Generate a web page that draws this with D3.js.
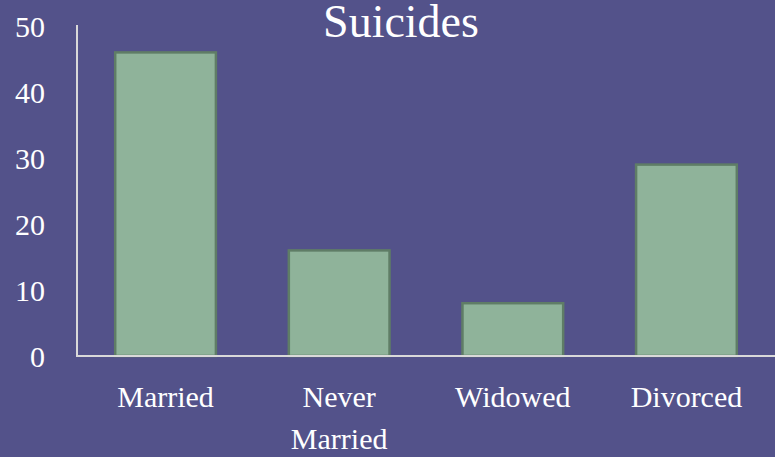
<!DOCTYPE html>
<html>
<head>
<meta charset="utf-8">
<script src="https://cdn.jsdelivr.net/npm/d3@7"></script>
<style>
  body { margin: 0; background: #53528a; }
</style>
</head>
<body>
<svg id="chart" width="775" height="457"></svg>
<script>
// chart data
var categories = ["Married", "Never Married", "Widowed", "Divorced"];
var suicides = [46, 16, 8, 29];
var yTicks = [0, 10, 20, 30, 40, 50];

var serif = "'Liberation Serif', 'Times New Roman', 'DejaVu Serif', serif";

var svg = d3.select("#chart"),
  width = +svg.attr("width"),
  height = +svg.attr("height");

var margin = {top: 26, right: 0, bottom: 101, left: 77};

svg.append("rect")
  .attr("width", width)
  .attr("height", height)
  .attr("fill", "#53528a");

var x = d3.scaleBand()
  .domain(categories)
  .range([margin.left, width - margin.right])
  .paddingInner(0.42)
  .paddingOuter(0.22);

var y = d3.scaleLinear()
  .domain([0, 50])
  .range([height - margin.bottom, margin.top]);

// bars
svg.append("g")
  .selectAll("rect")
  .data(suicides)
  .enter()
  .append("rect")
    .attr("x", function(d, i){ return x(categories[i]) })
    .attr("y", function(d){ return y(d) })
    .attr("width", x.bandwidth())
    .attr("height", function(d){ return y(0) - y(d) })
    .attr("fill", "#8fb39a")
    .attr("stroke", "#5f7d66")
    .attr("stroke-width", 2.5)

// y axis labels
svg.append("g")
  .selectAll("text")
  .data(yTicks)
  .enter()
  .append("text")
    .attr("x", 45)
    .attr("y", function(d){ return y(d) })
    .attr("dy", "0.35em")
    .attr("text-anchor", "end")
    .attr("font-family", serif)
    .attr("fill", "#fff")
    .style("font-size", "30px")
    .text(function(d){ return d })

// axis lines
svg.append("line")
  .attr("x1", margin.left).attr("x2", margin.left)
  .attr("y1", y(50) - 1).attr("y2", y(0))
  .attr("stroke", "#d9d9d9").attr("stroke-width", 2)
svg.append("line")
  .attr("x1", margin.left - 1).attr("x2", width)
  .attr("y1", y(0)).attr("y2", y(0))
  .attr("stroke", "#d9d9d9").attr("stroke-width", 2)

// category labels (wrap two-word names)
var labels = svg.append("g")
  .selectAll("text")
  .data(categories)
  .enter()
  .append("text")
    .attr("x", function(d){ return x(d) + x.bandwidth() / 2 })
    .attr("y", 407)
    .attr("text-anchor", "middle")
    .attr("font-family", serif)
    .attr("fill", "#fff")
    .style("font-size", "30px")

labels.each(function(d){
  var words = d.split(" ");
  var t = d3.select(this);
  words.forEach(function(w, i){
    t.append("tspan")
      .attr("x", x(d) + x.bandwidth() / 2)
      .attr("dy", i === 0 ? 0 : 42)
      .text(w);
  });
});

// title
svg.append("text")
  .attr("x", 401)
  .attr("y", 37)
  .attr("text-anchor", "middle")
  .attr("font-family", serif)
  .attr("fill", "#fff")
  .style("font-size", "46px")
  .text("Suicides")
</script>
</body>
</html>
